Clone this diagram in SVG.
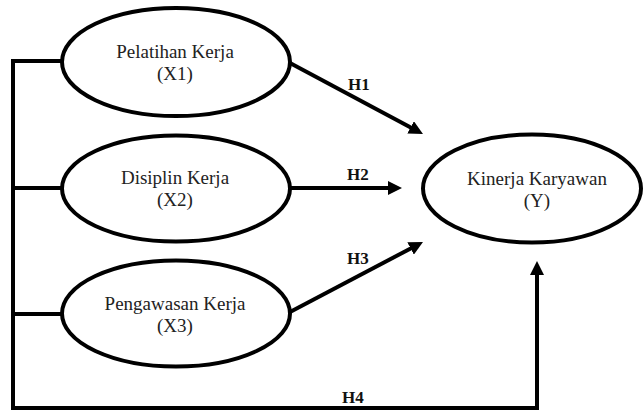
<svg xmlns="http://www.w3.org/2000/svg" width="643" height="412" viewBox="0 0 643 412">
  <style>
    .node ellipse { fill: #ffffff; stroke: #000000; stroke-width: 4; }
    .node text { font-family: "Liberation Serif", "Times New Roman", serif; font-size: 19px; fill: #222222; text-anchor: middle; }
    .edge { fill: none; stroke: #000000; stroke-width: 4; stroke-linejoin: miter; }
    .lbl { font-family: "Liberation Serif", "Times New Roman", serif; font-size: 17px; font-weight: bold; fill: #111111; }
  </style>
  <defs>
    <marker id="arrow" markerUnits="userSpaceOnUse" markerWidth="14" markerHeight="14" refX="6" refY="7" orient="auto">
      <path d="M0,0 L14,7 L0,14 z" fill="#000000"/>
    </marker>
  </defs>
  <rect width="643" height="412" fill="#ffffff"/>

  <g id="connectors">
    <path class="edge" d="M62,61 H13 V408 H537 V269" marker-end="url(#arrow)"/>
    <path class="edge" d="M13,188 H62"/>
    <path class="edge" d="M13,314 H62"/>
    <path class="edge" d="M290,63 L415.9,130.2" marker-end="url(#arrow)"/>
    <path class="edge" d="M290,188 L394,188" marker-end="url(#arrow)"/>
    <path class="edge" d="M290,312 L415.9,245.7" marker-end="url(#arrow)"/>
    <text class="lbl" x="348" y="90">H1</text>
    <text class="lbl" x="347" y="180">H2</text>
    <text class="lbl" x="347" y="264">H3</text>
    <text class="lbl" x="342" y="403">H4</text>
  </g>

  <g id="x1" class="node">
    <ellipse cx="176" cy="62" rx="114" ry="54"/>
    <text x="175" y="58">Pelatihan Kerja</text>
    <text x="175" y="80">(X1)</text>
  </g>
  <g id="x2" class="node">
    <ellipse cx="176" cy="188.5" rx="114" ry="53"/>
    <text x="175" y="184">Disiplin Kerja</text>
    <text x="175" y="206">(X2)</text>
  </g>
  <g id="x3" class="node">
    <ellipse cx="176" cy="313.5" rx="114" ry="53"/>
    <text x="175" y="310">Pengawasan Kerja</text>
    <text x="175" y="332">(X3)</text>
  </g>
  <g id="y" class="node">
    <ellipse cx="532" cy="188.5" rx="109" ry="54"/>
    <text x="537" y="185">Kinerja Karyawan</text>
    <text x="537" y="207">(Y)</text>
  </g>
</svg>
